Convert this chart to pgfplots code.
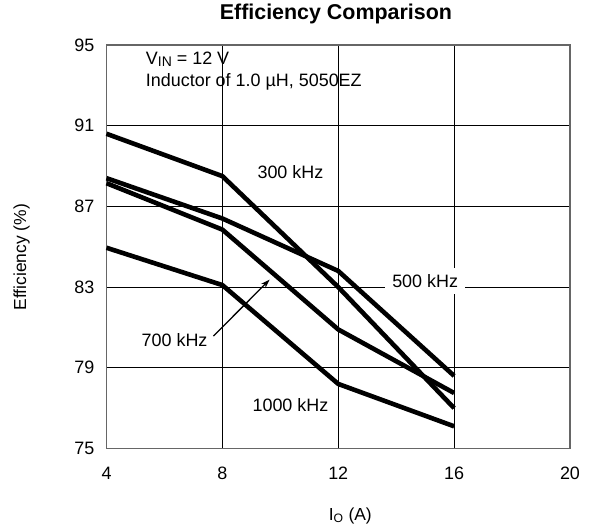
\documentclass[border=0pt]{standalone}
\usepackage{fontspec}
\setmainfont{Liberation Sans}
\usepackage{pgfplots}
\pgfplotsset{compat=1.18}
\usetikzlibrary{arrows.meta}

\begin{document}
\fontsize{18}{21.6}\selectfont
\begin{tikzpicture}
\begin{axis}[
    scale only axis,
    width=463.5bp, height=403.5bp,
    xmin=4, xmax=20, ymin=75, ymax=95,
    xtick={4,8,12,16,20},
    ytick={75,79,83,87,91,95},
    major tick length=0pt,
    grid=major,
    major grid style={black, line width=0.8bp},
    axis line style={gray!80!black, line width=1.1bp},
    /pgf/number format/assume math mode=true,
    ticklabel style={font=\fontsize{18}{21}\selectfont},
    yticklabel style={xshift=-6bp},
    xticklabel style={yshift=-12bp},
    title={\textbf{Efficiency Comparison}},
    title style={at={(rel axis cs:0.495,1)}, anchor=base, yshift=20bp,
                 font=\fontsize{21.5}{25}\selectfont},
    clip=false,
]
% 300 kHz
\addplot[black, line width=4.6bp, line join=round, no markers] coordinates {(4,90.6) (8,88.5) (12,83.0) (16,77.0)};
% 500 kHz
\addplot[black, line width=4.6bp, line join=round, no markers] coordinates {(4,88.4) (8,86.4) (12,83.8) (16,78.6)};
% 700 kHz
\addplot[black, line width=4.6bp, line join=round, no markers] coordinates {(4,88.15) (8,85.85) (12,80.9) (16,77.75)};
% 1000 kHz
\addplot[black, line width=4.6bp, line join=round, no markers] coordinates {(4,84.95) (8,83.1) (12,78.2) (16,76.1)};

\node[anchor=base west] at (axis cs:5.15,94.05) {V{\fontsize{14}{16}\selectfont\raisebox{-0.3ex}{IN}} = 12 V};
\node[anchor=base west] at (axis cs:5.15,92.95) {Inductor of 1.0 µH, 5050EZ};
\node at (axis cs:10.35,88.68) {300 kHz};
\node[fill=white, inner xsep=7bp] at (axis cs:15.0,83.3) {500 kHz};
\node at (axis cs:6.35,80.35) {700 kHz};
\node[fill=white, inner ysep=4bp] at (axis cs:10.35,77.17) {1000 kHz};
\draw[-{Stealth[length=9bp,width=6bp]}, line width=1.3bp] (axis cs:7.69,80.57) -- (axis cs:9.63,83.37);

\node[rotate=90, font=\fontsize{17.5}{20}\selectfont] at (rel axis cs:-0.183,0.474) {Efficiency (\%)};
\node[anchor=base, font=\fontsize{17.5}{20}\selectfont] at (rel axis cs:0.526,0) [yshift=-71.5bp] {I\textsubscript{O} (A)};
\end{axis}
\pgfresetboundingbox
\useasboundingbox (-106.5bp,-76.5bp) rectangle (484.5bp,448.5bp);
\end{tikzpicture}
\end{document}
